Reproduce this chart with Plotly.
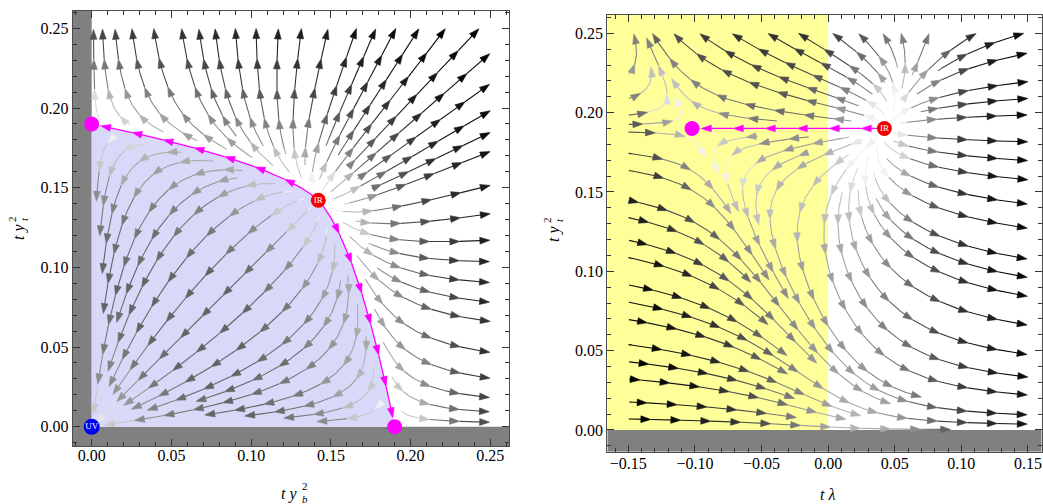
import math
import numpy as np
import plotly.graph_objects as go

W, H = 1043, 504

# ---------------- data ----------------
# Panel A : t*y_b^2 (x)  vs  t*y_t^2 (y)
A_X_RANGE = [-0.0119, 0.2617]
A_Y_RANGE = [-0.0121, 0.2611]
A_TICKS = [0.00, 0.05, 0.10, 0.15, 0.20, 0.25]
A_UV = (0.0, 0.0)
A_IR = (0.1421, 0.1421)
A_SADDLE_B = (0.19, 0.0)
A_SADDLE_T = (0.0, 0.19)
A_STREAM_BOX = [0.0, 0.25, 0.0, 0.25]

# Panel B : t*lambda (x)  vs  t*y_t^2 (y)
B_X_RANGE = [-0.1658, 0.1603]
B_Y_RANGE = [-0.0137, 0.2617]
B_X_TICKS = [-0.15, -0.10, -0.05, 0.00, 0.05, 0.10, 0.15]
B_Y_TICKS = [0.00, 0.05, 0.10, 0.15, 0.20, 0.25]
B_IR = (0.0422, 0.19)
B_SADDLE = (-0.1022, 0.19)
B_STREAM_BOX = [-0.15, 0.15, 0.0, 0.25]
B_LAMBDA_COEFFS = [13.2, 0.5, 0.2113]   # rate, lambda*y mixing, y^2 term

# plot-area placement (pixels: left, right, top, bottom)
A_PX = (72.7, 509.0, 10.7, 446.0)
B_PX = (607.3, 1041.7, 14.7, 451.7)

SERIF = "Liberation Serif, Times New Roman, Times, serif"

# ---------------- flow fields (built from the fixed points) ----------------
bA = 1.0 / A_SADDLE_B[0]
cA = 1.0 / A_IR[0] - bA


def FA(x, y):
    return x * (-1.0 + bA * x + cA * y), y * (-1.0 + cA * x + bA * y)


KB, MIXB, GB = B_LAMBDA_COEFFS
YS = B_IR[1]
DB = -(B_IR[0] + B_SADDLE[0]) - MIXB * YS
EB = B_IR[0] * B_SADDLE[0] + GB * YS ** 2


def FB(x, y):
    return (KB * (x * x + MIXB * x * y + DB * x + EB - GB * y * y),
            y * (y / YS - 1.0))


class Occ:
    def __init__(self, cell):
        self.cell = cell
        self.g = {}

    def add(self, px, py):
        k = (int(px // self.cell), int(py // self.cell))
        self.g.setdefault(k, []).append((px, py))

    def near(self, px, py, d):
        cx, cy = int(px // self.cell), int(py // self.cell)
        d2 = d * d
        for i in (cx - 1, cx, cx + 1):
            for j in (cy - 1, cy, cy + 1):
                for (qx, qy) in self.g.get((i, j), ()):
                    if (qx - px) ** 2 + (qy - py) ** 2 < d2:
                        return True
        return False


def scales(px, xr, yr):
    return (px[1] - px[0]) / (xr[1] - xr[0]), (px[3] - px[2]) / (yr[1] - yr[0])


def trace_raw(F, x, y, sx, sy, sgn, box, stops, occ=None, dtest=0, h=1.0, maxn=3000):
    out = []
    for _ in range(maxn):
        u, v = F(x, y)
        pu, pv = u * sx, v * sy
        n = math.hypot(pu, pv)
        if n < 1e-12:
            break
        du, dv = pu / n, pv / n
        xm = x + sgn * 0.5 * h * du / sx
        ym = y + sgn * 0.5 * h * dv / sy
        u2, v2 = F(xm, ym)
        pu2, pv2 = u2 * sx, v2 * sy
        n2 = math.hypot(pu2, pv2)
        if n2 < 1e-12:
            break
        du2, dv2 = pu2 / n2, pv2 / n2
        if du * du2 + dv * dv2 < 0.3:
            break
        xn = x + sgn * h * du2 / sx
        yn = y + sgn * h * dv2 / sy
        if not (box[0] <= xn <= box[1] and box[2] <= yn <= box[3]):
            break
        hit = False
        for (fx, fy, r) in stops:
            if ((xn - fx) * sx) ** 2 + ((yn - fy) * sy) ** 2 < r * r:
                hit = True
                break
        if hit:
            break
        if occ is not None and occ.near(xn * sx, yn * sy, dtest):
            break
        out.append((xn, yn))
        x, y = xn, yn
    return out


def streamlines(F, box, sx, sy, stops, pre, dsep=17.0, dtest=7.5, minlen=14):
    occ = Occ(dsep)
    for path in pre:
        for (x, y) in path:
            occ.add(x * sx, y * sy)
    lines = []

    def try_seed(x, y):
        if not (box[0] <= x <= box[1] and box[2] <= y <= box[3]):
            return None
        for (fx, fy, r) in stops:
            if ((x - fx) * sx) ** 2 + ((y - fy) * sy) ** 2 < (r + 3) ** 2:
                return None
        if occ.near(x * sx, y * sy, dsep * 0.95):
            return None
        b = trace_raw(F, x, y, sx, sy, -1, box, stops, occ, dtest)
        f = trace_raw(F, x, y, sx, sy, 1, box, stops, occ, dtest)
        pts = b[::-1] + [(x, y)] + f
        if len(pts) < minlen:
            return None
        for i, (px, py) in enumerate(pts):
            if i % 2 == 0:
                occ.add(px * sx, py * sy)
        lines.append(pts)
        return pts

    cx, cy = (box[0] + box[1]) / 2, (box[2] + box[3]) / 2
    gx = np.arange(box[0] + 0.5 * dsep / sx, box[1], dsep / sx)
    gy = np.arange(box[2] + 0.5 * dsep / sy, box[3], dsep / sy)
    seeds = [(a, b) for a in gx for b in gy]
    seeds.sort(key=lambda p: ((p[0] - cx) * sx) ** 2 + ((p[1] - cy) * sy) ** 2)
    for (a, b) in seeds:
        L = try_seed(a, b)
        if L is None:
            continue
        queue = [L]
        while queue:
            cur = queue.pop(0)
            P = np.array(cur) * np.array([sx, sy])
            for i in range(0, len(P) - 1, 4):
                ddx, ddy = P[i + 1] - P[i]
                nn = math.hypot(ddx, ddy)
                if nn == 0:
                    continue
                nxv, nyv = -ddy / nn, ddx / nn
                for s in (1, -1):
                    L2 = try_seed((P[i, 0] + s * dsep * nxv) / sx,
                                  (P[i, 1] + s * dsep * nyv) / sy)
                    if L2 is not None:
                        queue.append(L2)
    return lines


def speed_norm(F, box):
    xs = np.linspace(box[0], box[1], 60)
    ys = np.linspace(box[2], box[3], 60)
    X, Y = np.meshgrid(xs, ys)
    U, V = F(X, Y)
    S = np.hypot(U, V).ravel()
    return np.percentile(S, 3), np.percentile(S, 99.5)


def gray_of(F, x, y, lo, hi):
    u, v = F(x, y)
    s = max(math.hypot(u, v), 1e-9)
    t = (math.log(s) - math.log(lo)) / (math.log(hi) - math.log(lo))
    t = min(max(t, 0.0), 1.0)
    return 238.0 * (1.0 - t) ** 1.35


def arrows_for(pts, sx, sy, La=30.0, Lh=10.0, hw=3.4):
    P = np.array(pts) * np.array([sx, sy])
    seg = np.hypot(np.diff(P[:, 0]), np.diff(P[:, 1]))
    s = np.concatenate([[0.0], np.cumsum(seg)])
    tot = s[-1]

    def at(val):
        val = min(max(val, 0.0), tot)
        return np.array([np.interp(val, s, P[:, 0]), np.interp(val, s, P[:, 1])])

    pieces = []
    sk = tot
    while sk >= 10.0:
        s0 = max(0.0, sk - La)
        pieces.append((s0, sk, True))
        sk -= La
    if pieces and pieces[-1][0] > 0:
        pieces.append((0.0, pieces[-1][0], False))
    out = []
    for (s0, s1, head) in pieces:
        send = s1 - 4.0 if head else s1
        vals = list(np.arange(s0, send, 2.0)) + [send]
        line = [at(v) for v in vals if v >= s0]
        mid = at(0.5 * (s0 + s1))
        tri = None
        if head:
            tip = at(s1)
            back = at(s1 - 3.0)
            d = tip - back
            nrm = np.hypot(*d)
            if nrm > 0:
                d = d / nrm
                n = np.array([-d[1], d[0]])
                b = tip - Lh * d
                tri = [tip, b + hw * n, b - hw * n, tip]
        out.append((line, mid, tri))
    return out


def build_stream_traces(lines, F, sx, sy, lo, hi, xa, ya):
    bins = {}
    for pts in lines:
        for (line, mid, tri) in arrows_for(pts, sx, sy):
            g = gray_of(F, mid[0] / sx, mid[1] / sy, lo, hi)
            key = int(round(g / 10.0)) * 10
            bl = bins.setdefault(key, ([], [], [], []))
            for p in line:
                bl[0].append(p[0] / sx)
                bl[1].append(p[1] / sy)
            bl[0].append(None)
            bl[1].append(None)
            if tri is not None:
                for p in tri:
                    bl[2].append(p[0] / sx)
                    bl[3].append(p[1] / sy)
                bl[2].append(None)
                bl[3].append(None)
    traces = []
    for key in sorted(bins.keys(), reverse=True):
        g = int(min(max(key, 0), 245))
        col = "rgb(%d,%d,%d)" % (g, g, g)
        lx, ly, tx, ty = bins[key]
        traces.append(go.Scatter(x=lx, y=ly, mode="lines", xaxis=xa, yaxis=ya,
                                 line=dict(color=col, width=1.1), hoverinfo="skip",
                                 showlegend=False))
        traces.append(go.Scatter(x=tx, y=ty, mode="lines", fill="toself", xaxis=xa, yaxis=ya,
                                 fillcolor=col, line=dict(color=col, width=0.6),
                                 hoverinfo="skip", showlegend=False))
    return traces


def magenta_traces(paths, sx, sy, xa, ya):
    lx, ly, tx, ty = [], [], [], []
    for pts in paths:
        for (line, mid, tri) in arrows_for(pts, sx, sy, La=32.0, Lh=10.0, hw=3.4):
            for p in line:
                lx.append(p[0] / sx)
                ly.append(p[1] / sy)
            lx.append(None)
            ly.append(None)
            if tri is not None:
                for p in tri:
                    tx.append(p[0] / sx)
                    ty.append(p[1] / sy)
                tx.append(None)
                ty.append(None)
    return [go.Scatter(x=lx, y=ly, mode="lines", xaxis=xa, yaxis=ya,
                       line=dict(color="#ff00ff", width=1.3), hoverinfo="skip", showlegend=False),
            go.Scatter(x=tx, y=ty, mode="lines", fill="toself", xaxis=xa, yaxis=ya,
                       fillcolor="#ff00ff", line=dict(color="#ff00ff", width=0.6),
                       hoverinfo="skip", showlegend=False)]


# ---------------- panel A computation ----------------
sxA, syA = scales(A_PX, A_X_RANGE, A_Y_RANGE)
wB = (-0.2027, 1.0)
wT = (1.0, -0.2027)
eps = 1e-4
irstop = [(A_IR[0], A_IR[1], 2.0)]
bigbox = [-0.05, 0.3, -0.05, 0.3]
sepB = trace_raw(FA, A_SADDLE_B[0] + eps * wB[0], A_SADDLE_B[1] + eps * wB[1], sxA, syA, -1,
                 bigbox, irstop, h=0.5, maxn=8000)
sepT = trace_raw(FA, A_SADDLE_T[0] + eps * wT[0], A_SADDLE_T[1] + eps * wT[1], sxA, syA, -1,
                 bigbox, irstop, h=0.5, maxn=8000)
sepB = [A_IR] + sepB[::-1]
sepT = [A_IR] + sepT[::-1]


def cut_end(path, sx, sy, target, r):
    out = []
    for p in path:
        if ((p[0] - target[0]) * sx) ** 2 + ((p[1] - target[1]) * sy) ** 2 < r * r:
            break
        out.append(p)
    return out


sepB_draw = cut_end(sepB, sxA, syA, A_SADDLE_B, 9.0)
sepT_draw = cut_end(sepT, sxA, syA, A_SADDLE_T, 9.0)

stopsA = [(A_UV[0], A_UV[1], 5.0), (A_IR[0], A_IR[1], 9.0),
          (A_SADDLE_B[0], A_SADDLE_B[1], 6.0), (A_SADDLE_T[0], A_SADDLE_T[1], 6.0)]
linesA = streamlines(FA, A_STREAM_BOX, sxA, syA, stopsA, [sepB_draw, sepT_draw])
loA, hiA = speed_norm(FA, A_STREAM_BOX)

# ---------------- panel B computation ----------------
sxB, syB = scales(B_PX, B_X_RANGE, B_Y_RANGE)
sepL = trace_raw(FB, B_IR[0] - 1e-4, B_IR[1], sxB, syB, 1, [-0.2, 0.2, -0.05, 0.3],
                 [(B_SADDLE[0], B_SADDLE[1], 9.0)], h=0.5, maxn=8000)
sepL = [B_IR] + sepL
stopsB = [(B_IR[0], B_IR[1], 9.0), (B_SADDLE[0], B_SADDLE[1], 7.0)]
linesB = streamlines(FB, B_STREAM_BOX, sxB, syB, stopsB, [sepL])
loB, hiB = speed_norm(FB, B_STREAM_BOX)

# ---------------- figure ----------------
fig = go.Figure()

poly = [A_UV, A_SADDLE_B] + sepB[::-1] + sepT[1:] + [A_SADDLE_T, A_UV]
fig.add_trace(go.Scatter(x=[p[0] for p in poly], y=[p[1] for p in poly], mode="lines",
                         fill="toself", fillcolor="rgb(216,216,248)", line=dict(width=0),
                         xaxis="x", yaxis="y", hoverinfo="skip", showlegend=False))

for tr in build_stream_traces(linesA, FA, sxA, syA, loA, hiA, "x", "y"):
    fig.add_trace(tr)
for tr in magenta_traces([sepB_draw, sepT_draw], sxA, syA, "x", "y"):
    fig.add_trace(tr)
for tr in build_stream_traces(linesB, FB, sxB, syB, loB, hiB, "x2", "y2"):
    fig.add_trace(tr)
for tr in magenta_traces([cut_end(sepL, sxB, syB, B_SADDLE, 9.0)], sxB, syB, "x2", "y2"):
    fig.add_trace(tr)

fig.add_trace(go.Scatter(x=[A_SADDLE_B[0], A_SADDLE_T[0]], y=[A_SADDLE_B[1], A_SADDLE_T[1]],
                         mode="markers", marker=dict(size=15, color="#ff00ff"),
                         xaxis="x", yaxis="y", hoverinfo="skip", showlegend=False, cliponaxis=False))
fig.add_trace(go.Scatter(x=[B_SADDLE[0]], y=[B_SADDLE[1]], mode="markers",
                         marker=dict(size=15, color="#ff00ff"),
                         xaxis="x2", yaxis="y2", hoverinfo="skip", showlegend=False))
lab_font = dict(family=SERIF, size=9, color="white")
fig.add_trace(go.Scatter(x=[A_IR[0]], y=[A_IR[1]], mode="markers+text", text=["IR"],
                         textposition="middle center", textfont=lab_font,
                         marker=dict(size=15, color="#f00000"),
                         xaxis="x", yaxis="y", hoverinfo="skip", showlegend=False))
fig.add_trace(go.Scatter(x=[A_UV[0]], y=[A_UV[1]], mode="markers+text", text=["UV"],
                         textposition="middle center", textfont=lab_font,
                         marker=dict(size=16, color="#0000f0"),
                         xaxis="x", yaxis="y", hoverinfo="skip", showlegend=False, cliponaxis=False))
fig.add_trace(go.Scatter(x=[B_IR[0]], y=[B_IR[1]], mode="markers+text", text=["IR"],
                         textposition="middle center", textfont=lab_font,
                         marker=dict(size=15, color="#f00000"),
                         xaxis="x2", yaxis="y2", hoverinfo="skip", showlegend=False))

shapes = [
    dict(type="rect", xref="x", yref="y", x0=A_X_RANGE[0], x1=0.0, y0=A_Y_RANGE[0], y1=A_Y_RANGE[1],
         fillcolor="#808080", line=dict(width=0), layer="below"),
    dict(type="rect", xref="x", yref="y", x0=A_X_RANGE[0], x1=A_X_RANGE[1], y0=A_Y_RANGE[0], y1=0.0,
         fillcolor="#808080", line=dict(width=0), layer="below"),
    dict(type="rect", xref="x2", yref="y2", x0=B_X_RANGE[0], x1=0.0, y0=0.0, y1=B_Y_RANGE[1],
         fillcolor="#ffff99", line=dict(width=0), layer="below"),
    dict(type="rect", xref="x2", yref="y2", x0=B_X_RANGE[0], x1=B_X_RANGE[1], y0=B_Y_RANGE[0], y1=0.0,
         fillcolor="#808080", line=dict(width=0), layer="below"),
]


def ax(rng, ticks, dom, standoff=0):
    return dict(range=rng, domain=dom, tickmode="array", tickvals=ticks,
                ticktext=[("%.2f" % t).replace("-", "\u2212") for t in ticks],
                showgrid=False, zeroline=False, showline=True, linecolor="#4d4d4d", linewidth=1,
                mirror="ticks", ticks="inside", ticklen=7, tickwidth=1, tickcolor="#333333",
                minor=dict(ticks="inside", ticklen=4, tickmode="linear", tick0=0, dtick=0.01,
                           tickcolor="#333333", tickwidth=1, showgrid=False),
                tickfont=dict(family=SERIF, size=16, color="black"),
                ticklabelstandoff=standoff,
                automargin=False, fixedrange=True)


def dom_x(px):
    return [px[0] / W, px[1] / W]


def dom_y(px):
    return [1 - px[3] / H, 1 - px[2] / H]


def P(x, y):
    return x / W, 1 - y / H


annots = []


def add_text(txt, x, y, size, angle=0, xanchor="center"):
    px, py = P(x, y)
    annots.append(dict(text=txt, x=px, y=py, xref="paper", yref="paper", showarrow=False,
                       xanchor=xanchor, yanchor="middle", textangle=angle,
                       font=dict(family=SERIF, size=size, color="black")))


add_text("<i>t y</i>", 299, 494, 16, xanchor="right")
add_text("2", 300, 486, 11, xanchor="left")
add_text("<i>b</i>", 300, 499, 11, xanchor="left")
add_text("<i>t λ</i>", 827, 494, 16)
add_text("<i>t y</i>", 19, 232, 16, angle=-90)
add_text("2", 12, 219, 11, angle=-90)
add_text("<i>t</i>", 24, 219, 11, angle=-90)
add_text("<i>t y</i>", 554, 234, 16, angle=-90)
add_text("2", 547, 220, 11, angle=-90)
add_text("<i>t</i>", 559, 220, 11, angle=-90)

fig.update_layout(
    width=W, height=H, margin=dict(l=0, r=0, t=0, b=0),
    paper_bgcolor="white", plot_bgcolor="white", showlegend=False,
    xaxis=dict(ax(A_X_RANGE, A_TICKS, dom_x(A_PX), standoff=-5), anchor="y"),
    yaxis=dict(ax(A_Y_RANGE, A_TICKS, dom_y(A_PX)), anchor="x"),
    xaxis2=dict(ax(B_X_RANGE, B_X_TICKS, dom_x(B_PX), standoff=-3), anchor="y2"),
    yaxis2=dict(ax(B_Y_RANGE, B_Y_TICKS, dom_y(B_PX)), anchor="x2"),
    shapes=shapes, annotations=annots,
)

fig.write_html("out.html", config={"displayModeBar": False},
               post_script="document.body.style.margin='0px';")
